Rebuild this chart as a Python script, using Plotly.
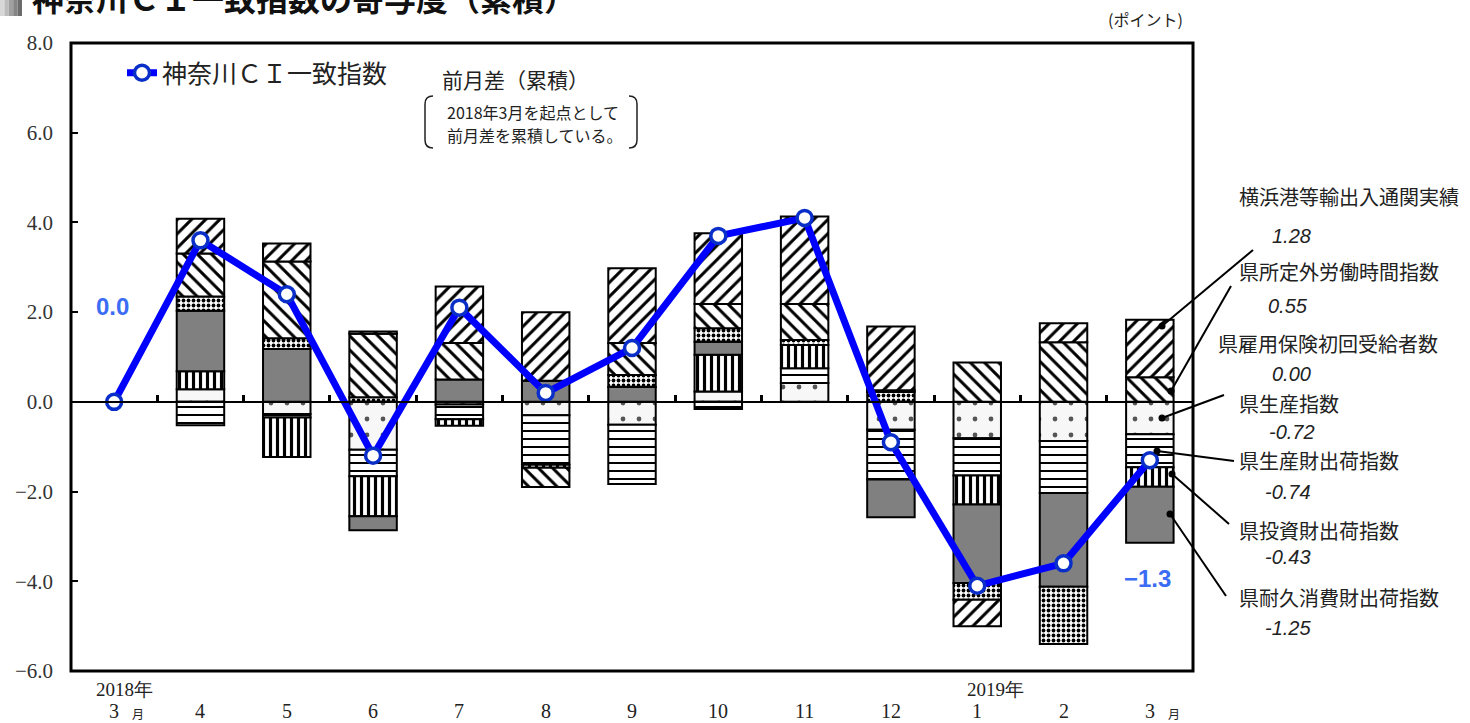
import plotly.graph_objects as go

# ---------------- data ----------------
months = ["2018年3月", "2018年4月", "2018年5月", "2018年6月", "2018年7月", "2018年8月",
          "2018年9月", "2018年10月", "2018年11月", "2018年12月", "2019年1月", "2019年2月", "2019年3月"]
tick_labels = ["3", "4", "5", "6", "7", "8", "9", "10", "11", "12", "1", "2", "3"]

ci_index = [0.0, 3.6, 2.4, -1.2, 2.1, 0.2, 1.2, 3.7, 4.1, -0.9, -4.1, -3.6, -1.3]

seisan = [0, 0.28, -0.27, -1.07, -0.06, -0.30, -0.51, 0.23, 0.42, -0.62, -0.81, -0.87, -0.72]
seisanzai = [0, -0.52, -0.08, -0.59, -0.33, -1.10, -1.32, -0.16, 0.33, -1.11, -0.83, -1.16, -0.74]
toushizai = [0, 0.40, -0.88, -0.89, -0.14, -0.07, 0, 0.82, 0.52, 0, -0.65, 0, -0.43]
taikyu = [0, 1.35, 1.18, -0.31, 0.50, 0.47, 0.33, 0.29, 0, -0.84, -1.75, -2.09, -1.25]
koyo = [0, 0.32, 0.24, 0.10, 0, 0, 0.27, 0.30, 0.11, 0.22, -0.37, -1.28, 0]
shoteigai = [0, 0.96, 1.71, 1.42, 0.81, -0.43, 0.71, 0.54, 0.80, 0.04, 0.88, 1.33, 0.55]
yokohama = [0, 0.77, 0.40, 0.05, 1.26, 1.53, 1.67, 1.58, 1.95, 1.42, -0.59, 0.42, 1.28]

series_names = ["県生産指数", "県生産財出荷指数", "県投資財出荷指数", "県耐久消費財出荷指数",
                "県雇用保険初回受給者数", "県所定外労働時間指数", "横浜港等輸出入通関実績"]
latest_labels = ["横浜港等輸出入通関実績", "県所定外労働時間指数", "県雇用保険初回受給者数",
                 "県生産指数", "県生産財出荷指数", "県投資財出荷指数", "県耐久消費財出荷指数"]
latest_values = ["1.28", "0.55", "0.00", "-0.72", "-0.74", "-0.43", "-1.25"]

# ---------------- helpers ----------------
L, R, T, B = 71, 1193, 43, 671
def px(x):
    return (x - L) / (R - L)
def py(y):
    return (B - y) / (B - T)

def nz(vals):
    return [None if v == 0 else v for v in vals]

patterns = [
    dict(shape=".", bgcolor="#f7f7f7", fgcolor="#555555", size=16, solidity=0.07, fillmode="replace"),
    dict(shape="-", bgcolor="white", fgcolor="black", size=8, solidity=0.25, fillmode="replace"),
    dict(shape="|", bgcolor="white", fgcolor="black", size=7, solidity=0.45, fillmode="replace"),
    None,
    dict(shape=".", bgcolor="white", fgcolor="black", size=5, solidity=0.45, fillmode="replace"),
    dict(shape="\\", bgcolor="white", fgcolor="black", size=10, solidity=0.3, fillmode="replace"),
    dict(shape="/", bgcolor="white", fgcolor="black", size=10, solidity=0.3, fillmode="replace"),
]
series_vals = [seisan, seisanzai, toushizai, taikyu, koyo, shoteigai, yokohama]

fig = go.Figure()
for name, vals, pat in zip(series_names, series_vals, patterns):
    marker = dict(line=dict(color="black", width=2))
    if pat is None:
        marker["color"] = "#808080"
    else:
        marker["color"] = "white"
        marker["pattern"] = pat
    fig.add_trace(go.Bar(x=months, y=nz(vals), name=name, marker=marker,
                         width=0.55, showlegend=False, hoverinfo="skip"))

fig.add_trace(go.Scatter(
    x=months, y=ci_index, mode="lines+markers", name="神奈川ＣＩ一致指数",
    line=dict(color="#0000ff", width=7),
    marker=dict(size=15, color="white", line=dict(color="#0a2ec8", width=3.5)),
    showlegend=True, cliponaxis=False))

fig.update_layout(
    width=1470, height=723,
    margin=dict(l=L, r=1470 - R, t=T, b=723 - B),
    paper_bgcolor="white", plot_bgcolor="white",
    barmode="relative", bargap=0.45,
    font=dict(family="Noto Sans CJK JP", color="#222222"),
    legend=dict(x=px(122), y=py(50), xanchor="left", yanchor="top",
                bgcolor="rgba(0,0,0,0)", font=dict(size=25, family="Noto Sans CJK JP", color="#222")),
    xaxis=dict(type="category", categoryorder="array", categoryarray=months,
               range=[-0.5, 12.5], showticklabels=False, anchor="free", position=6 / 14,
               showline=True, linecolor="black", linewidth=2,
               ticks="inside", tickson="boundaries", ticklen=6, tickwidth=3, tickcolor="black",
               showgrid=False, zeroline=False),
    yaxis=dict(range=[-6, 8], tickvals=[8, 6, 4, 2, 0, -2, -4, -6], tickformat=".1f",
               ticks="inside", ticklen=7, tickwidth=2, tickcolor="black",
               showgrid=False, zeroline=False, showline=False, ticklabelstandoff=17,
               tickfont=dict(family="Liberation Serif", size=21, color="#333")),
)

shapes = []
# plot frame
shapes.append(dict(type="rect", xref="paper", yref="paper", x0=0, x1=1, y0=0, y1=1,
                   line=dict(color="black", width=3), layer="above"))
# gradient block beside title
greys = ["#d8d8d8", "#bdbdbd", "#a0a0a0", "#858585", "#6c6c6c"]
for i, g in enumerate(greys):
    shapes.append(dict(type="rect", xref="paper", yref="paper",
                       x0=px(i * 4.4), x1=px((i + 1) * 4.4), y0=py(16), y1=py(-2),
                       line=dict(width=0), fillcolor=g))
# brackets around note
def bracket(x_edge, x_in, y0, y1):
    return dict(type="path", xref="paper", yref="paper",
                path=f"M {px(x_in)} {py(y0)} Q {px(x_edge)} {py(y0)} {px(x_edge)} {py(y0 + 8)} "
                     f"L {px(x_edge)} {py(y1 - 8)} Q {px(x_edge)} {py(y1)} {px(x_in)} {py(y1)}",
                line=dict(color="#222", width=1.5))
shapes.append(bracket(425, 433, 96, 148))
shapes.append(bracket(637, 629, 96, 148))

# leader lines for latest month
leaders = [((1162, 326), (1253, 250)), ((1171, 391), (1231, 286)),
           ((1162, 418), (1224, 395)), ((1157, 451), (1234, 461)),
           ((1172, 474), (1229, 524)), ((1170, 514), (1226, 596))]
for (x0, y0), (x1, y1) in leaders:
    shapes.append(dict(type="line", xref="paper", yref="paper", x0=px(x0), y0=py(y0),
                       x1=px(x1), y1=py(y1), line=dict(color="black", width=2), layer="above"))
    shapes.append(dict(type="circle", xref="paper", yref="paper",
                       x0=px(x0 - 3.5), x1=px(x0 + 3.5), y0=py(y0 + 3.5), y1=py(y0 - 3.5),
                       fillcolor="black", line=dict(width=0), layer="above"))
fig.update_layout(shapes=shapes)

ann = []
# title (clipped at top, as in the source)
ann.append(dict(text="<b>神奈川ＣＩ一致指数の寄与度（累積）</b>", xref="paper", yref="paper",
                x=px(30), y=py(22), xanchor="left", yanchor="bottom", showarrow=False,
                font=dict(size=32, family="Noto Sans CJK JP", color="#111")))
ann.append(dict(text="(ポイント)", xref="paper", yref="paper", x=px(1145), y=py(19),
                xanchor="center", yanchor="middle", showarrow=False,
                font=dict(size=16, family="Noto Sans CJK JP", color="#222")))
ann.append(dict(text="前月差（累積）", xref="paper", yref="paper", x=px(440), y=py(79),
                xanchor="left", yanchor="middle", showarrow=False,
                font=dict(size=21, family="Noto Sans CJK JP", color="#222")))
ann.append(dict(text="2018年3月を起点として", xref="paper", yref="paper", x=px(445), y=py(112),
                xanchor="left", yanchor="middle", showarrow=False,
                font=dict(size=16, family="Noto Sans CJK JP", color="#222")))
ann.append(dict(text="前月差を累積している。", xref="paper", yref="paper", x=px(445), y=py(135),
                xanchor="left", yanchor="middle", showarrow=False,
                font=dict(size=16, family="Noto Sans CJK JP", color="#222")))
# value labels
ann.append(dict(text=f"<b>{ci_index[0]:.1f}</b>", x=months[0], y=ci_index[0], xref="x", yref="y",
                xshift=-2, yshift=95, showarrow=False,
                font=dict(size=24, family="Liberation Sans", color="#3a6cf4")))
ann.append(dict(text=f"<b>{ci_index[-1]:.1f}</b>".replace("-", "−"), x=months[-1], y=ci_index[-1],
                xref="x", yref="y", xshift=-2, yshift=-118, showarrow=False,
                font=dict(size=24, family="Liberation Sans", color="#3a6cf4")))
# x tick labels
for m, t in zip(months, tick_labels):
    ann.append(dict(text=t, x=m, xref="x", yref="paper", y=py(711), yanchor="middle",
                    showarrow=False, font=dict(size=20, family="Liberation Serif", color="#222")))
for idx in (0, len(months) - 1):
    ann.append(dict(text="月", x=months[idx], xref="x", yref="paper", y=py(713), yanchor="middle",
                    xshift=24, showarrow=False,
                    font=dict(size=12, family="Noto Sans CJK JP", color="#222")))
ann.append(dict(text="2018年", x=months[0], xref="x", yref="paper", y=py(689), yanchor="middle",
                xshift=10, showarrow=False,
                font=dict(size=19, family="Liberation Serif", color="#222")))
ann.append(dict(text="2019年", x=months[10], xref="x", yref="paper", y=py(689), yanchor="middle",
                xshift=18, showarrow=False,
                font=dict(size=19, family="Liberation Serif", color="#222")))
# right side labels
label_pos = [(1237, 197), (1237, 271), (1216, 344), (1237, 403), (1237, 460), (1237, 530), (1237, 597)]
value_pos = [(1291, 236), (1288, 306), (1291, 374), (1292, 432), (1288, 492), (1288, 557), (1288, 628)]
for lab, val, (lx, ly), (vx, vy) in zip(latest_labels, latest_values, label_pos, value_pos):
    ann.append(dict(text=lab, xref="paper", yref="paper", x=px(lx), y=py(ly), xanchor="left",
                    yanchor="middle", showarrow=False,
                    font=dict(size=20, family="Noto Sans CJK JP", color="#222")))
    ann.append(dict(text=f"<i>{val}</i>", xref="paper", yref="paper", x=px(vx), y=py(vy),
                    xanchor="center", yanchor="middle", showarrow=False,
                    font=dict(size=20, family="Liberation Sans", color="#222")))
fig.update_layout(annotations=ann)

fig.write_html("out.html")
